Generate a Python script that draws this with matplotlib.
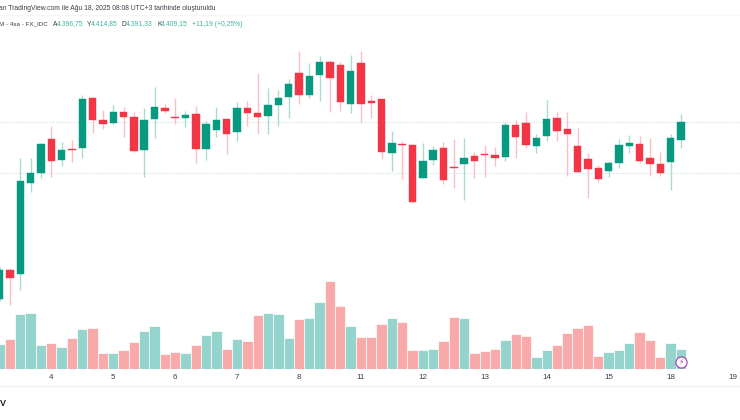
import matplotlib
matplotlib.use('Agg')
import matplotlib.pyplot as plt

# 4h candles
opens = [4289.9, 4309.25, 4306.3, 4368.2, 4374.5, 4397.45, 4383.5, 4390.9, 4391.4, 4425.1, 4410.7, 4408.25, 4415.7, 4412.75, 4390.0, 4410.95, 4418.6, 4412.5, 4411.6, 4414.8, 4390.7, 4403.75, 4410.95, 4402.4, 4418.4, 4415.0, 4413.0, 4420.85, 4426.25, 4442.2, 4427.6, 4440.65, 4449.9, 4447.4, 4421.5, 4448.75, 4423.3, 4424.45, 4388.0, 4394.5, 4393.85, 4371.35, 4383.5, 4391.4, 4378.8, 4381.0, 4386.4, 4387.5, 4387.1, 4385.3, 4406.9, 4408.25, 4392.7, 4399.7, 4411.6, 4404.2, 4392.95, 4383.95, 4377.9, 4376.1, 4381.5, 4393.2, 4394.3, 4384.6, 4381.0, 4382.15, 4396.75]
highs = [4311.5, 4309.9, 4384.6, 4384.85, 4394.75, 4406.45, 4395.9, 4397.0, 4427.6, 4426.25, 4417.25, 4420.6, 4419.05, 4415.7, 4418.4, 4432.55, 4421.3, 4425.1, 4416.6, 4419.95, 4410.05, 4419.05, 4410.95, 4422.4, 4423.55, 4442.2, 4431.9, 4430.75, 4438.4, 4457.3, 4448.75, 4453.7, 4450.55, 4449.65, 4454.4, 4457.3, 4427.4, 4424.45, 4403.1, 4396.1, 4394.3, 4395.0, 4392.95, 4395.65, 4397.9, 4398.1, 4388.7, 4393.6, 4392.05, 4409.15, 4410.3, 4415.7, 4401.05, 4424.0, 4415.7, 4415.7, 4404.9, 4388.45, 4380.1, 4382.8, 4397.45, 4400.6, 4399.7, 4398.1, 4388.7, 4401.05, 4414.85]
lows = [4288.0, 4285.6, 4295.75, 4361.7, 4371.6, 4372.25, 4379.7, 4381.9, 4384.6, 4401.95, 4404.4, 4407.8, 4399.25, 4389.1, 4372.25, 4398.35, 4415.0, 4407.6, 4405.55, 4381.5, 4383.5, 4399.25, 4387.3, 4396.55, 4406.7, 4401.05, 4401.3, 4406.7, 4412.1, 4421.3, 4425.1, 4423.55, 4415.7, 4416.8, 4415.0, 4408.25, 4411.6, 4384.4, 4376.3, 4370.9, 4354.9, 4371.1, 4380.35, 4367.5, 4364.4, 4356.3, 4371.35, 4372.25, 4379.2, 4382.8, 4385.1, 4391.8, 4388.2, 4396.55, 4396.55, 4372.9, 4375.6, 4357.85, 4368.4, 4372.0, 4377.9, 4388.45, 4381.7, 4372.9, 4372.9, 4363.0, 4391.33]
closes = [4309.25, 4304.1, 4369.1, 4374.5, 4394.1, 4382.6, 4390.0, 4390.0, 4424.9, 4410.5, 4407.8, 4415.7, 4412.75, 4389.8, 4410.5, 4419.05, 4416.8, 4411.85, 4413.9, 4391.15, 4407.8, 4410.7, 4401.05, 4418.4, 4415.0, 4412.75, 4420.6, 4425.6, 4434.8, 4427.6, 4440.2, 4449.9, 4438.85, 4422.9, 4443.35, 4421.5, 4422.2, 4388.7, 4394.75, 4393.4, 4354.9, 4383.05, 4390.5, 4370.0, 4378.1, 4385.1, 4382.6, 4386.9, 4384.6, 4407.1, 4399.0, 4393.6, 4398.1, 4411.4, 4403.1, 4401.05, 4375.6, 4377.65, 4370.7, 4381.7, 4393.4, 4394.75, 4382.8, 4381.0, 4374.5, 4398.1, 4409.15]
volumes = [75, 91, 166, 169, 72, 79, 66, 93, 122, 124, 48, 48, 57, 82, 116, 131, 45, 52, 49, 73, 102, 116, 60, 90, 86, 163, 168, 165, 95, 152, 153, 201, 266, 189, 131, 97, 97, 137, 153, 143, 58, 58, 60, 84, 156, 154, 49, 55, 60, 88, 106, 101, 37, 58, 72, 110, 125, 133, 40, 51, 58, 78, 113, 87, 37, 80, 60]
volume_up = [1, 0, 1, 1, 1, 0, 1, 0, 1, 0, 0, 1, 0, 0, 1, 1, 0, 0, 1, 0, 1, 1, 0, 1, 0, 0, 1, 1, 1, 0, 1, 1, 0, 0, 1, 0, 0, 0, 1, 0, 0, 1, 1, 0, 0, 1, 0, 0, 0, 1, 0, 0, 1, 1, 0, 0, 0, 0, 0, 1, 1, 1, 0, 0, 0, 1, 1]
day_ticks = [5, 11, 17, 23, 29, 35, 41, 47, 53, 59, 65, 71]
day_labels = ['4', '5', '6', '7', '8', '11', '12', '13', '14', '15', '18', '19']
grid_prices = [4409.15, 4374.5]

GREEN = '#089981'
RED = '#F23645'
GREEN_WICK = '#a9dcd0'
RED_WICK = '#f9c1c6'
W, H = 740, 420

plt.rcParams['font.family'] = ['Liberation Sans', 'DejaVu Sans']

fig = plt.figure(figsize=(W / 100, H / 100), dpi=100, facecolor='white')
ax = fig.add_axes([0, 0, 1, 1])
ax.set_xlim(0.03, 71.73)
ax.set_ylim(4208, 4491.5)
ax.axis('off')

for p in grid_prices:
    ax.axhline(p, color='#d6e8e1', lw=0.8, ls=(0, (1, 1)), zorder=1)

x = list(range(len(opens)))
up = [c >= o for o, c in zip(opens, closes)]
ax.vlines(x, lows, highs, colors=[GREEN_WICK if u else RED_WICK for u in up], lw=1.0, zorder=2)
bottoms = [min(o, c) for o, c in zip(opens, closes)]
heights = [abs(c - o) for o, c in zip(opens, closes)]
colors = [GREEN if u else RED for u in up]
ax.bar(x, heights, bottom=bottoms, width=0.72, color=colors, edgecolor=colors, lw=0.3, zorder=3)

# volume pane, shares the x scale, baseline just above the date labels
base = 369.3
vol = fig.add_axes([0, 1 - base / H, 1, base / H], facecolor='none')
vol.set_xlim(0.03, 71.73)
vol.set_ylim(0, base * 3)
vol.bar(x, volumes, width=1.0, color=['#94d4cd' if u else '#f8a9a9' for u in volume_up],
        edgecolor='white', lw=0.5, zorder=2)
for s in vol.spines.values():
    s.set_visible(False)
vol.set_yticks([])
vol.set_xticks(day_ticks)
vol.set_xticklabels(day_labels, fontsize=5.8, color='#3a3e4a')
vol.tick_params(axis='x', length=0, pad=3.5)

# bolt marker on the last volume bar
vol.plot([66], [22], 'o', ms=8, mfc='white', mec='#ab47bc', mew=0.9, zorder=5, clip_on=False)
vol.text(66, 22, '\u26a1', fontsize=5.5, color='#ab47bc', ha='center', va='center', zorder=6,
         family='DejaVu Sans')

# dividers
fig.add_artist(plt.Line2D([0, 1], [1 - 15 / H] * 2, color='#f6f6f6', lw=1))
fig.add_artist(plt.Line2D([0, 1], [1 - 385.5 / H] * 2, color='#f0f0f0', lw=0.8))


def put(px, py, s, color='#3a3e4a', **kw):
    fig.text(px / W, 1 - py / H, s, color=color, fontsize=kw.pop('fontsize', 4.9), va='center', **kw)


put(-1, 9, 'an TradingView.com ile Ağu 18, 2025 08:08 UTC+3 tarihinde oluşturuldu')
put(-1, 24, 'M - 4sa - FX_IDC', fontsize=4.5)
for px, letter, val in [(53, 'A', '4.396,75'), (87, 'Y', '4.414,85'), (122, 'D', '4.391,33'), (157, 'K', '4.409,15')]:
    put(px, 24, letter)
    put(px + 4.3, 24, val, color='#3fb39f')
put(192, 24, '+11,19 (+0,25%)', color='#3fb39f')
put(0, 403, 'V', color='#222222', fontsize=6.5, fontweight='bold')

fig.savefig('out.png', dpi=100)
